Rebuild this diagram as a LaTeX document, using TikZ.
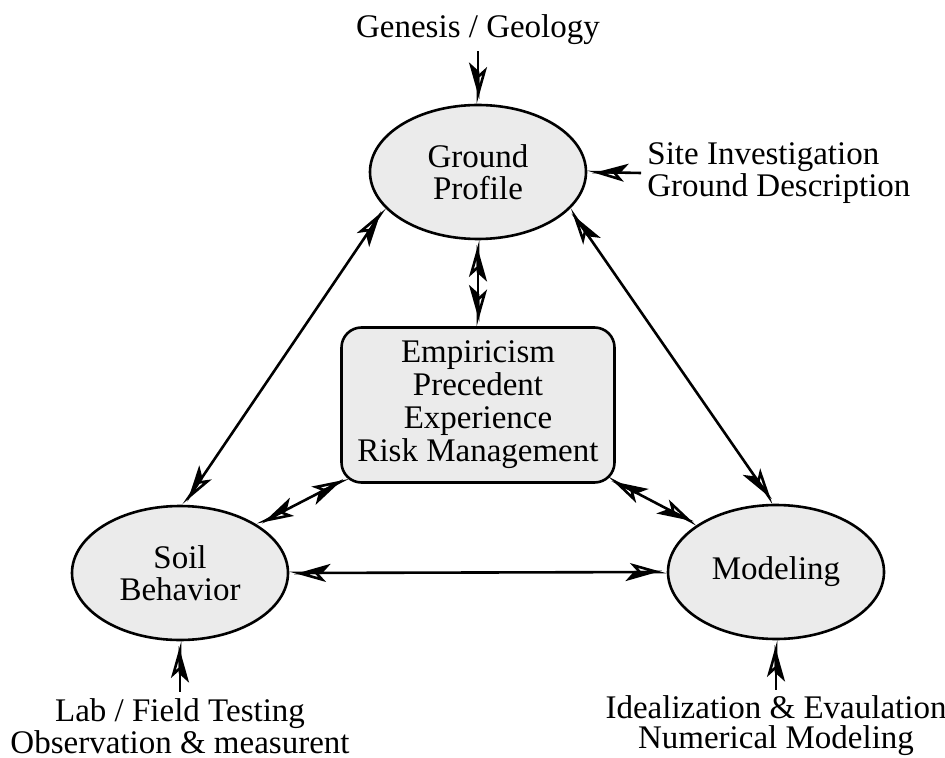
\documentclass[tikz,border=0pt]{standalone}
\usepackage{fontspec}
\setmainfont{Liberation Serif}
\usetikzlibrary{shapes.geometric, arrows.meta}
\definecolor{bubblegray}{HTML}{EBEBEB}
\tikzset{
  halftip/.tip={Stealth[harpoon,swap,length=16pt,width=9pt,inset=4pt,sep=-16pt]Stealth[harpoon,open,length=16pt,width=9pt,inset=4pt]},
  bubble/.style={ellipse, draw, line width=1.3pt, fill=bubblegray, minimum width=108pt, minimum height=67pt, inner sep=0pt, align=center},
  source/.style={align=center, inner sep=3pt},
  link/.style={line width=1.3pt}
}

\begin{document}
\begin{tikzpicture}[x=0.5pt, y=-0.5pt, font=\fontsize{16.5}{16}\selectfont]
\useasboundingbox (0,0) rectangle (945,758);
\node [bubble] (gp) at (478,172) {Ground\\Profile};
\node [bubble] (soil) at (180,573) {Soil\\Behavior};
\node [bubble] (model) at (776,572) {Modeling};
\node [draw, line width=1.3pt, fill=bubblegray, rounded corners=10pt, minimum width=136.5pt, minimum height=77.5pt, align=center, font=\fontsize{16.5}{16.5}\selectfont] (emp) at (478,405) {Empiricism\\Precedent\\Experience\\Risk Management};
\node [source] (gen) at (478,30) {Genesis / Geology};
\node [source, align=left, anchor=west] (site) at (641,173) {Site Investigation\\Ground Description};
\node [source, font=\fontsize{16.5}{15}\selectfont] (lab) at (180,726) {Lab / Field Testing\\Observation \& measurent};
\node [source, font=\fontsize{16.5}{15}\selectfont] (ideal) at (776,726) {Idealization \& Evaulation\\Numerical Modeling};

\draw [link, -halftip] (gen) -- (gp);
\draw [link, -halftip] (site.west) -- (gp.east);
\draw [link, -halftip] (lab) -- (soil);
\draw [link, -halftip] (ideal) -- (model);
\draw [link, halftip-halftip] (gp.south) -- (emp.north);
\draw [link, halftip-halftip] (gp.201) -- (soil.87);
\draw [link, halftip-halftip] (gp.338) -- (model.92);
\draw [link, halftip-halftip] (soil.east) -- (model.west);
\draw [link, halftip-halftip] (soil.32) -- ([xshift=4pt,yshift=3pt]emp.south west);
\draw [link, halftip-halftip] ([xshift=-4pt,yshift=3pt]emp.south east) -- (model.149);
\end{tikzpicture}
\end{document}
